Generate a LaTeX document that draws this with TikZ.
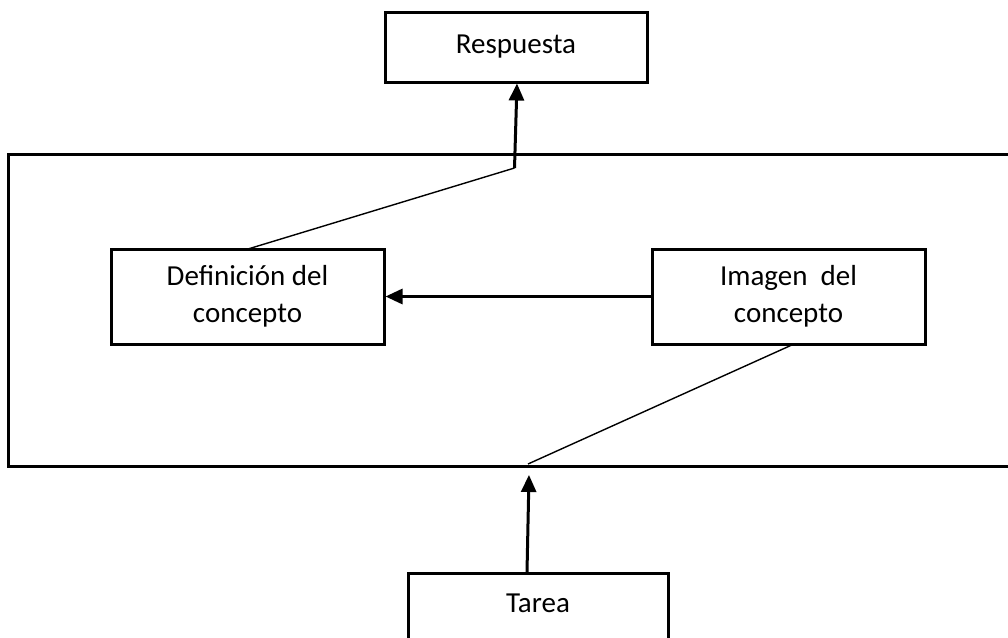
\documentclass[tikz,border=0pt]{standalone}
\usepackage{fontspec}
\setmainfont{Carlito}
\usetikzlibrary{arrows.meta}
\begin{document}
\begin{tikzpicture}[x=1pt,y=-1pt,
  box/.style={draw=black,line width=3pt,fill=white,align=center,inner sep=0pt,
    font=\fontsize{29}{37}\selectfont},
  thin/.style={line width=1.4pt},
  arr/.style={line width=3pt,-{Triangle[length=17pt,width=15pt]}}]
\useasboundingbox (0,0) rectangle (1008,637);
\clip (0,0) rectangle (1008,637);
\fill[white] (0,0) rectangle (1008,637);
\draw[line width=3pt] (1020,154) -- (8,154) -- (8,466) -- (1020,466);
\node[box,minimum width=262pt,minimum height=70pt] (resp) at (516,47) {Respuesta};
\node[box,minimum width=273pt,minimum height=95pt] (defi) at (247.5,296.5) {Definición del\\concepto};
\node[box,minimum width=273pt,minimum height=95pt] (imag) at (788.5,296.5) {Imagen\ \ del\\concepto};
\node[box,anchor=north,minimum width=260pt,text height=39pt,text depth=40pt] (tarea) at (538,572) {Tarea};
\coordinate (elbow) at (514.5,168);
\coordinate (bot) at (528,464);
\coordinate (defitop) at (248,249);
\coordinate (imagbot) at (794,344);
\draw[thin] (defitop) -- (elbow);
\draw[thin] (imagbot) -- (bot);
\draw[arr] (elbow) -- (resp.south -| 517,0);
\draw[arr] (imag.west) -- (defi.east);
\draw[arr] (tarea.north -| 527,0) -- (529,475);
\end{tikzpicture}
\end{document}
